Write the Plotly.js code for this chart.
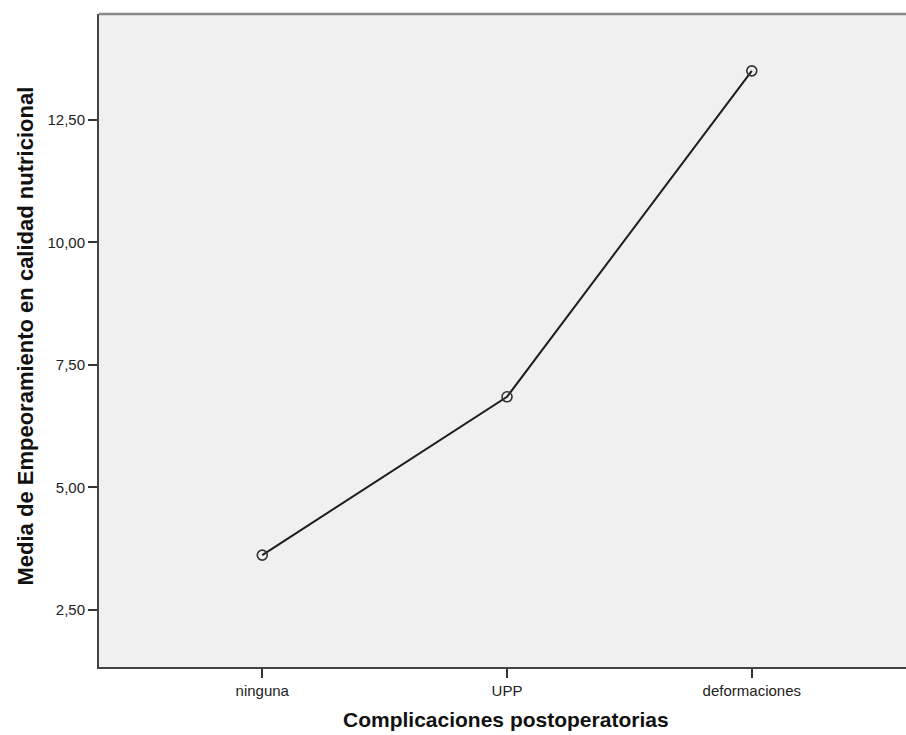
<!DOCTYPE html>
<html>
<head>
<meta charset="utf-8">
<script src="https://cdn.plot.ly/plotly-3.0.1.min.js"></script>
<style>html,body{margin:0;padding:0;background:#fff;}#chart{width:906px;height:735px;}</style>
</head>
<body>
<div id="chart"></div>
<script>
const categories = ["ninguna", "UPP", "deformaciones"];
const means = [3.62, 6.85, 13.5];
const yTickVals = [2.5, 5, 7.5, 10, 12.5];
const xTitle = "Complicaciones postoperatorias";
const yTitle = "Media de Empeoramiento en calidad nutricional";

const trace = {
  x: [0, 1, 2],
  y: means,
  type: "scatter",
  mode: "lines+markers",
  line: {color: "#1e1e1e", width: 2},
  marker: {symbol: "circle-open", size: 10, color: "#333333", line: {width: 1.6, color: "#333333"}},
  hoverinfo: "skip"
};

const layout = {
  width: 906, height: 735,
  margin: {l: 99, r: 0, t: 14, b: 68},
  paper_bgcolor: "#ffffff",
  plot_bgcolor: "#f0f0f0",
  separators: ",.",
  showlegend: false,
  font: {family: "Liberation Sans, Arial, sans-serif", size: 15, color: "#222"},
  xaxis: {
    range: [-0.667, 2.63],
    tickvals: [0, 1, 2],
    ticktext: categories,
    showgrid: false, zeroline: false,
    showline: true, linecolor: "#444", linewidth: 2,
    ticks: "outside", ticklen: 9, tickwidth: 2, tickcolor: "#333",
    tickfont: {size: 15, color: "#222"}
  },
  yaxis: {
    range: [1.337, 14.66],
    tickvals: yTickVals,
    tickformat: ".2f",
    showgrid: false, zeroline: false,
    showline: true, linecolor: "#444", linewidth: 2,
    ticks: "outside", ticklen: 9, tickwidth: 2, tickcolor: "#333",
    tickfont: {size: 15, color: "#222"}
  },
  shapes: [
    {type: "line", xref: "paper", yref: "paper", x0: 0, x1: 1, y0: 1, y1: 1, line: {color: "#888", width: 2.5}}
  ],
  annotations: [
    {text: "<b>" + xTitle + "</b>", xref: "paper", yref: "paper", x: (506 - 99) / 807, y: 0, yshift: -52, xanchor: "center", yanchor: "middle", showarrow: false, font: {size: 21, color: "#111"}},
    {text: "<b>" + yTitle + "</b>", xref: "paper", yref: "paper", x: 0, xshift: -74, y: 0.5, yshift: 4, xanchor: "center", yanchor: "middle", textangle: -90, showarrow: false, font: {size: 22, color: "#111"}}
  ]
};

Plotly.newPlot("chart", [trace], layout, {displayModeBar: false, staticPlot: true});
</script>
</body>
</html>
